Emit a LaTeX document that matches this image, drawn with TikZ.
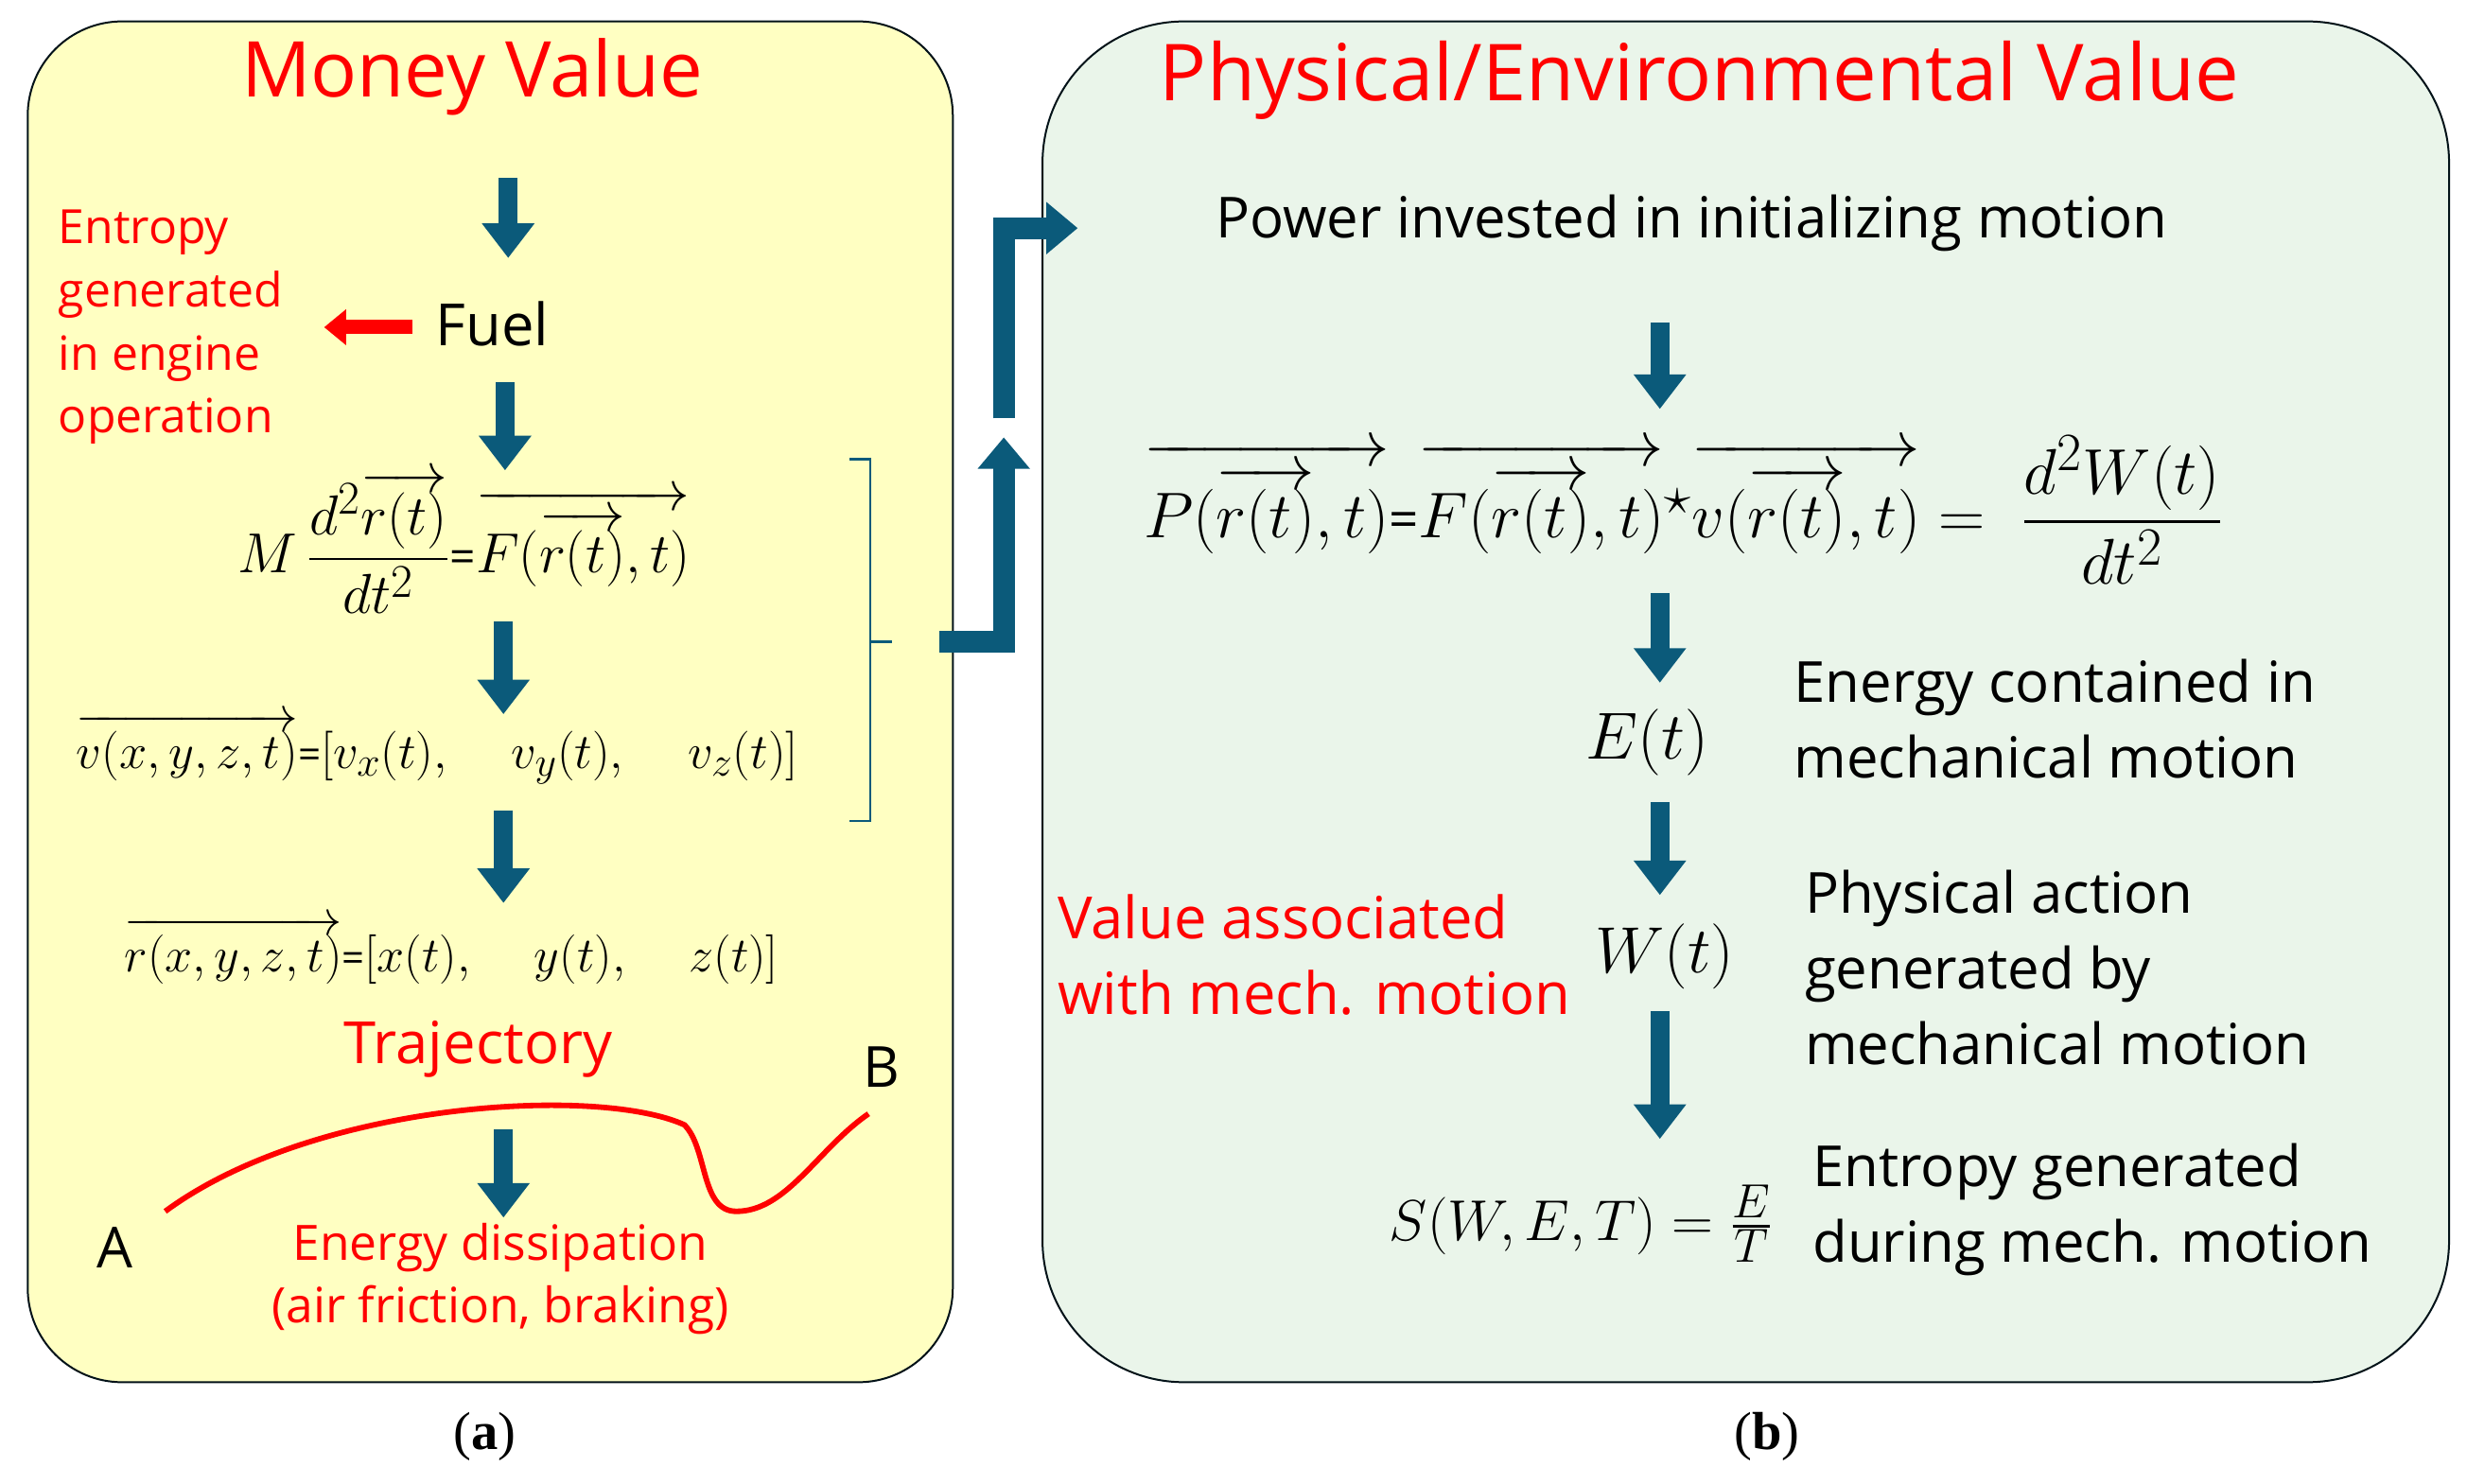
\documentclass[tikz,border=0pt]{standalone}
\usepackage{fontspec}
\usepackage{amsmath}
\setmainfont{Open Sans}
\newfontfamily\capfont{Liberation Serif}
\usetikzlibrary{arrows.meta}
\definecolor{teal}{HTML}{0B5A7A}
\definecolor{ybox}{HTML}{FFFFC2}
\definecolor{gbox}{HTML}{EAF5EA}
\definecolor{rd}{HTML}{FF0000}
\begin{document}
\begin{tikzpicture}[x=1pt,y=-1pt,
  big/.style={font=\fontsize{49}{56}\selectfont,text=rd},
  txt/.style={font=\fontsize{36}{48}\selectfont,align=left,inner sep=0pt},
  rtxt/.style={txt,text=rd},
  mth/.style={font=\fontsize{28}{34}\selectfont,inner sep=0pt},
  blk/.style={draw=teal,line width=12pt,-{Triangle[width=32pt,length=22pt]}},
  box/.style={draw=black!80!teal,line width=1.2pt}]
\useasboundingbox (0,0) rectangle (1568,943);
\node[box,fill=ybox,rounded corners=60pt,minimum width=588pt,minimum height=865pt,anchor=north west] (L) at (17,13) {};
\node[box,fill=gbox,rounded corners=90pt,minimum width=894pt,minimum height=865pt,anchor=north west] (R) at (662,13) {};
\node[big] (t1) at (300,49) {Money Value};
\node[big,font=\fontsize{50}{56}\selectfont] (t2) at (1080,51) {Physical/Environmental Value};
% left column
\coordinate (a1s) at (323,113); \coordinate (a1e) at (323,164);
\draw[blk] (a1s) -- (a1e);
\node[txt,font=\fontsize{37}{40}\selectfont] (fuel) at (313,206) {Fuel};
\coordinate (ra1) at (262,208); \coordinate (ra2) at (206,208);
\draw[draw=rd,line width=9pt,-{Triangle[width=22pt,length=14pt]}] (ra1) -- (ra2);
\node[rtxt,anchor=west,font=\fontsize{30}{40}\selectfont] (ent) at (37,208) {Entropy\\generated\\in engine\\operation};
\coordinate (a2s) at (321,243); \coordinate (a2e) at (321,299);
\draw[blk] (a2s) -- (a2e);
\node[mth,scale=1.44,transform shape] (e1) at (295,345) {$M\,\dfrac{d^2\overrightarrow{r(t)}}{dt^2} \text{\fontsize{20}{20}\selectfont =} \overrightarrow{F(\overrightarrow{r(t)},t)}$};
\coordinate (a3s) at (320,395); \coordinate (a3e) at (320,454);
\draw[blk] (a3s) -- (a3e);
\node[mth,scale=1.27,transform shape] (e2) at (278,476) {$\overrightarrow{v(x,y,z,t)} \text{\fontsize{20}{20}\selectfont =} [v_x(t),\quad v_y(t),\quad v_z(t)]$};
\coordinate (a4s) at (320,515); \coordinate (a4e) at (320,574);
\draw[blk] (a4s) -- (a4e);
\node[mth,scale=1.26,transform shape] (e3) at (287,604) {$\overrightarrow{r(x,y,z,t)}\text{\fontsize{20}{20}\selectfont =} [x(t),\quad y(t),\quad z(t)]$};
\node[big,font=\fontsize{37}{40}\selectfont] (traj) at (304,667) {Trajectory};
\coordinate (A0) at (105,770); \coordinate (B0) at (552,708);
\draw[rd,line width=3.5pt] (A0) .. controls (200,700) and (380,690) .. (435,715)
   .. controls (450,730) and (445,770) .. (468,770) .. controls (500,770) and (520,730) .. (B0);
\draw[blk] (320,718) -- (320,774);
\node[txt] (A) at (73,793) {A};
\node[txt] (B) at (560,678) {B};
\node[rtxt,align=center,font=\fontsize{31}{40}\selectfont] (diss) at (318,813) {Energy dissipation\\(air friction, braking)};
% bracket
\coordinate (br1) at (540,292); \coordinate (br2) at (540,522); \coordinate (brm) at (567,408);
\draw[teal,line width=1.5pt] (br1) -- (553,292) -- (553,522) -- (br2);
\draw[teal,line width=1.5pt] (553,408) -- (brm);
% elbow arrows
\coordinate (el1) at (597,408); \coordinate (el2) at (638,408); \coordinate (el3) at (638,278);
\draw[draw=teal,line width=14pt,-{Triangle[width=32pt,length=20pt]}] (el1) -- (el2) -- (el3);
\coordinate (em1) at (638,266); \coordinate (em2) at (638,145); \coordinate (em3) at (685,145);
\draw[draw=teal,line width=14pt,-{Triangle[width=32pt,length=20pt]}] (em1) -- (em2) -- (em3);
% right column
\node[txt] (pow) at (1075,142) {Power invested in initializing motion};
\draw[blk] (1055,205) -- (1055,260);
\node[mth,scale=1.65,transform shape] (e4) at (1070,324) {$\overrightarrow{P(\overrightarrow{r(t)},t)}\text{\fontsize{20}{20}\selectfont =}\overrightarrow{F(\overrightarrow{r(t)},t)}{}^{\star}\overrightarrow{v(\overrightarrow{r(t)},t)} = \;\dfrac{d^2W(t)}{dt^2}$};
\draw[blk] (1055,377) -- (1055,434);
\node[mth,scale=1.7,transform shape] (E) at (1047,472) {$E(t)$};
\node[txt,anchor=west] (Et) at (1140,457) {Energy contained in\\mechanical motion};
\draw[blk] (1055,510) -- (1055,569);
\node[mth,scale=1.67,transform shape] (W) at (1058,608) {$W(t)$};
\node[rtxt,anchor=west,font=\fontsize{37}{48}\selectfont] (val) at (672,607) {Value associated\\with mech. motion};
\node[txt,anchor=west] (Wt) at (1147,615) {Physical action\\generated by\\mechanical motion};
\draw[blk] (1055,643) -- (1055,724);
\node[mth,scale=1.47,transform shape] (S) at (1005,778) {$S(W,E,T) = \frac{E}{T}$};
\node[txt,anchor=west] (St) at (1152,769) {Entropy generated\\during mech. motion};
\node[font=\capfont\fontsize{34}{40}\selectfont] (ca) at (308,913) {(\textbf{a})};
\node[font=\capfont\fontsize{34}{40}\selectfont] (cb) at (1123,913) {(\textbf{b})};
\end{tikzpicture}
\end{document}
